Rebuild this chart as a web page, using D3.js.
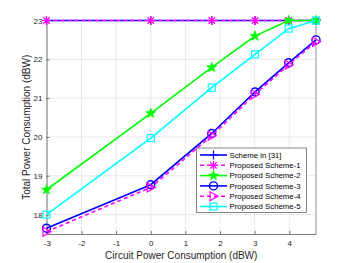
<!DOCTYPE html>
<html>
<head>
<meta charset="utf-8">
<script src="https://cdn.jsdelivr.net/npm/d3@7"></script>
<style>
body { margin: 0; background: #fff; }
svg { display: block; font-family: "Liberation Sans", Arial, sans-serif; }
</style>
</head>
<body>
<div id="chart"></div>
<script>
// 数据
const xVals = [-3.01, 0, 1.76, 3.01, 3.98, 4.77]
const xTicks = [-3, -2, -1, 0, 1, 2, 3, 4]
const yTicks = [18, 19, 20, 21, 22, 23]
const seriesNames = ['Scheme in [31]', 'Proposed Scheme-1', 'Proposed Scheme-2', 'Proposed Scheme-3', 'Proposed Scheme-4', 'Proposed Scheme-5']
const scheme31 = [23, 23, 23, 23, 23, 23]
const scheme1 = [23, 23, 23, 23, 23, 23]
const scheme2 = [18.64, 20.61, 21.79, 22.6, 23, 23]
const scheme3 = [17.65, 18.77, 20.09, 21.16, 21.91, 22.5]
const scheme4 = [17.56, 18.7, 20.03, 21.1, 21.86, 22.45]
const scheme5 = [18.0, 19.97, 21.27, 22.13, 22.79, 23]

const styles = [
  {color: '#0000ff', dash: null, marker: 'plus'},
  {color: '#ff00ff', dash: '4,3', marker: 'asterisk'},
  {color: '#00ff00', dash: null, marker: 'star'},
  {color: '#0000ff', dash: null, marker: 'circle'},
  {color: '#ff00ff', dash: '4,3', marker: 'triangle'},
  {color: '#00ffff', dash: null, marker: 'square'}
]
const allSeries = [scheme31, scheme1, scheme2, scheme3, scheme4, scheme5]

const width = 350, height = 263
const margin = {top: 20.5, left: 46.5, right: 34, bottom: 29}
const innerW = width - margin.left - margin.right
const innerH = height - margin.top - margin.bottom

const svg = d3.select('#chart').append('svg').attr('width', width).attr('height', height)
const xScale = d3.scaleLinear().domain([-3.01, 4.77]).range([margin.left, margin.left + innerW])
const yScale = d3.scaleLinear().domain([17.5, 23]).range([margin.top + innerH, margin.top])

// 网格
const g = svg.append('g')
g.selectAll('.gx').data(xTicks).enter().append('line')
  .attr('x1', d => xScale(d)).attr('x2', d => xScale(d))
  .attr('y1', margin.top).attr('y2', margin.top + innerH)
  .attr('stroke', '#e3e3e3').attr('stroke-width', 0.8)
g.selectAll('.gy').data(yTicks).enter().append('line')
  .attr('x1', margin.left).attr('x2', margin.left + innerW)
  .attr('y1', d => yScale(d)).attr('y2', d => yScale(d))
  .attr('stroke', '#e3e3e3').attr('stroke-width', 0.8)

// 坐标轴
const axisColor = '#262626'
const fmt = d => String(d)
const xAxis = d3.axisBottom(xScale).tickValues(xTicks).tickFormat(fmt).tickSizeInner(-3).tickSizeOuter(0).tickPadding(6)
const yAxis = d3.axisLeft(yScale).tickValues(yTicks).tickFormat(fmt).tickSizeInner(-3).tickSizeOuter(0).tickPadding(4)
const xg = svg.append('g').attr('transform', `translate(0,${margin.top + innerH})`).call(xAxis)
const yg = svg.append('g').attr('transform', `translate(${margin.left},0)`).call(yAxis)
for (const a of [xg, yg]) {
  a.selectAll('path,line').attr('stroke', axisColor).attr('stroke-width', 0.6)
  a.selectAll('text').attr('fill', axisColor).attr('font-size', 8)
}
// 右侧和上方边框
svg.append('line').attr('x1', margin.left + innerW).attr('x2', margin.left + innerW)
  .attr('y1', margin.top).attr('y2', margin.top + innerH).attr('stroke', '#444').attr('stroke-width', 0.6)
svg.append('line').attr('x1', margin.left).attr('x2', margin.left + innerW)
  .attr('y1', margin.top).attr('y2', margin.top).attr('stroke', '#444').attr('stroke-width', 0.6)

// 轴标题
svg.append('text').text('Circuit Power Consumption (dBW)')
  .attr('x', margin.left + innerW / 2).attr('y', 259).attr('text-anchor', 'middle')
  .attr('font-size', 10).attr('fill', axisColor)
svg.append('text').text('Total Power Consumption (dBW)')
  .attr('transform', `translate(29.5,${margin.top + innerH / 2}) rotate(-90)`)
  .attr('text-anchor', 'middle').attr('font-size', 10).attr('fill', axisColor)

// 画标记
function draw_marker(sel, type, x, y, color) {
  const s = 4.5
  if (type === 'plus') {
    sel.append('path').attr('d', `M${x - s},${y}H${x + s}M${x},${y - s}V${y + s}`)
      .attr('stroke', color).attr('stroke-width', 1.2).attr('fill', 'none')
  } else if (type === 'asterisk') {
    const k = s * 0.72
    sel.append('path').attr('d', `M${x - s},${y}H${x + s}M${x},${y - s}V${y + s}M${x - k},${y - k}L${x + k},${y + k}M${x - k},${y + k}L${x + k},${y - k}`)
      .attr('stroke', color).attr('stroke-width', 1.2).attr('fill', 'none')
  } else if (type === 'star') {
    sel.append('path').attr('d', d3.symbol().type(d3.symbolStar).size(30)())
      .attr('transform', `translate(${x},${y})`)
      .attr('fill', color).attr('stroke', color).attr('stroke-width', 0.8)
  } else if (type === 'circle') {
    sel.append('circle').attr('cx', x).attr('cy', y).attr('r', 4)
      .attr('fill', 'none').attr('stroke', color).attr('stroke-width', 1.4)
  } else if (type === 'triangle') {
    sel.append('path').attr('d', `M${x - 3.5},${y - 4.5}L${x + 4.5},${y}L${x - 3.5},${y + 4.5}Z`)
      .attr('fill', 'none').attr('stroke', color).attr('stroke-width', 1.2)
  } else if (type === 'square') {
    sel.append('rect').attr('x', x - 3.5).attr('y', y - 3.5).attr('width', 7).attr('height', 7)
      .attr('fill', 'none').attr('stroke', color).attr('stroke-width', 1.2)
  }
}

// 画曲线
const line = d3.line().x((d, i) => xScale(xVals[i])).y(d => yScale(d))
allSeries.forEach((vals, k) => {
  const st = styles[k]
  const sg = svg.append('g')
  sg.append('path').datum(vals).attr('d', line)
    .attr('fill', 'none').attr('stroke', st.color).attr('stroke-width', 1.6)
    .attr('stroke-dasharray', st.dash)
  vals.forEach((v, i) => draw_marker(sg, st.marker, xScale(xVals[i]), yScale(v), st.color))
})

// 图例
const lg = svg.append('g')
lg.append('rect').attr('x', 196.5).attr('y', 148).attr('width', 110).attr('height', 64.5)
  .attr('fill', '#fff').attr('stroke', '#333').attr('stroke-width', 0.6)
seriesNames.forEach((name, k) => {
  const st = styles[k]
  const y = 155 + k * 10.3
  lg.append('line').attr('x1', 200).attr('x2', 227).attr('y1', y).attr('y2', y)
    .attr('stroke', st.color).attr('stroke-width', 1.6).attr('stroke-dasharray', st.dash)
  draw_marker(lg, st.marker, 213.5, y, st.color)
  lg.append('text').text(name).attr('x', 229.5).attr('y', y + 2.8)
    .attr('font-size', 7.8).attr('fill', '#000')
})
</script>
</body>
</html>
